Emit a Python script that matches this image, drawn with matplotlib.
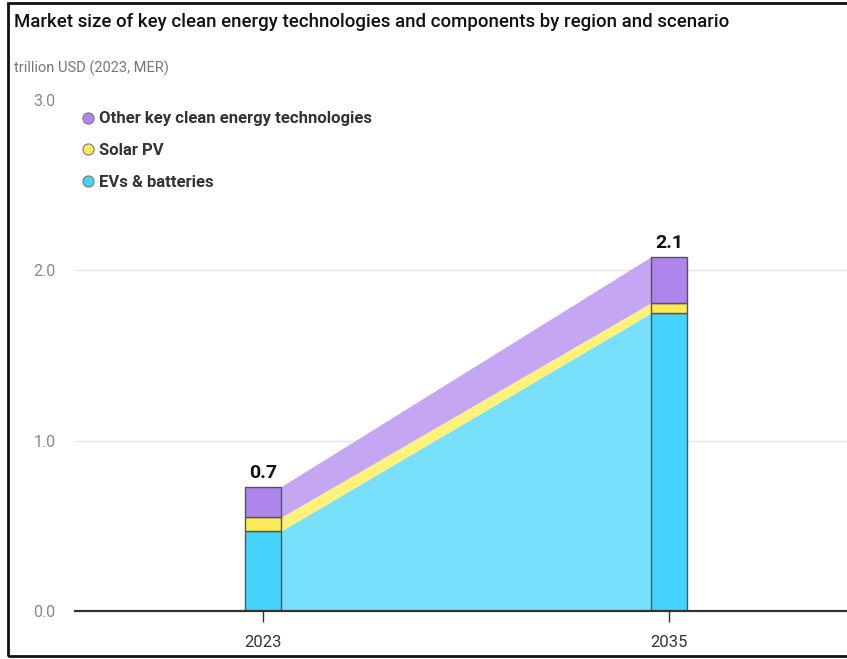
import matplotlib
matplotlib.use("Agg")
import matplotlib.pyplot as plt
from matplotlib.patches import Rectangle
from matplotlib.lines import Line2D

years = ["2023", "2035"]
evs = [0.47, 1.75]
solar = [0.08, 0.06]
other = [0.18, 0.27]
totals_label = ["0.7", "2.1"]
series_names = ["Other key clean energy technologies", "Solar PV", "EVs & batteries"]

bar_cols = {"evs": "#45D3FB", "solar": "#FBEB58", "other": "#AE85EA"}
area_cols = {"evs": "#78DFFD", "solar": "#FFF27A", "other": "#C4A6F2"}

plt.rcParams['font.family'] = ['Roboto', 'DejaVu Sans']

fig = plt.figure(figsize=(8.47, 6.59), dpi=100)
W, H = 847, 659
ax = fig.add_axes([75 / W, (H - 611) / H, 1 - 75 / W, (611 - 100) / H])

x = [0, 1]
w = 0.0887
ax.set_xlim(-0.463, 1.438)
ax.set_ylim(0, 3.0)

# areas between bars
xa = [x[0] + w / 2, x[1] - w / 2]
b1 = evs
b2 = [evs[i] + solar[i] for i in range(2)]
b3 = [b2[i] + other[i] for i in range(2)]
ax.fill_between(xa, 0, b1, color=area_cols["evs"], lw=0, zorder=2)
ax.fill_between(xa, b1, b2, color=area_cols["solar"], lw=0, zorder=2)
ax.fill_between(xa, b2, b3, color=area_cols["other"], lw=0, zorder=2)

# bars
ec = "#555555"
ax.bar(x, evs, w, color=bar_cols["evs"], edgecolor=ec, lw=1, zorder=3)
ax.bar(x, solar, w, bottom=b1, color=bar_cols["solar"], edgecolor=ec, lw=1, zorder=3)
ax.bar(x, other, w, bottom=b2, color=bar_cols["other"], edgecolor=ec, lw=1, zorder=3)

for i in range(2):
    ax.text(x[i], b3[i] + 0.025, totals_label[i], ha="center", va="bottom",
            fontsize=14, fontweight="bold", color="#111111", zorder=4)

# grid
ax.set_yticks([0, 1, 2, 3])
ax.set_yticklabels(["0.0", "1.0", "2.0", "3.0"])
for yv in [1, 2]:
    ax.axhline(yv, color="#E6E6E6", lw=1, zorder=1)
ax.axhline(0, color="#333333", lw=1.6, zorder=5, clip_on=False)
ax.tick_params(axis="y", length=0, pad=14, labelsize=11.5, labelcolor="#888888")
ax.tick_params(axis="x", length=8, width=1, color="#333333", pad=9,
               labelsize=12, labelcolor="#333333")
ax.set_xticks(x)
ax.set_xticklabels(years)
for s in ax.spines.values():
    s.set_visible(False)

# legend
handles = [
    Line2D([], [], marker="o", ls="", markersize=8, markerfacecolor=bar_cols["other"], markeredgecolor="#777777", markeredgewidth=0.8),
    Line2D([], [], marker="o", ls="", markersize=8, markerfacecolor=bar_cols["solar"], markeredgecolor="#777777", markeredgewidth=0.8),
    Line2D([], [], marker="o", ls="", markersize=8, markerfacecolor=bar_cols["evs"], markeredgecolor="#777777", markeredgewidth=0.8),
]
leg = fig.legend(handles, series_names, loc="upper left", bbox_to_anchor=(70 / W, 1 - 103 / H),
                 frameon=False, handletextpad=0.05, labelspacing=1.0, borderpad=0,
                 handlelength=1.2, prop={"weight": "bold", "size": 12})
for t in leg.get_texts():
    t.set_color("#333333")

fig.text(14 / W, 1 - 22 / H, "Market size of key clean energy technologies and components by region and scenario",
         ha="left", va="center", fontsize=13.4, fontweight="medium", color="#111111")
fig.text(14 / W, 1 - 68 / H, "trillion USD (2023, MER)", ha="left", va="center",
         fontsize=10.5, color="#777777")

# figure border
fig.patches.append(Rectangle((8 / W, 3 / H), 1.0, 1 - 6 / H, transform=fig.transFigure,
                             fill=False, edgecolor="#111111", lw=2))

fig.savefig("out.png", dpi=100)
